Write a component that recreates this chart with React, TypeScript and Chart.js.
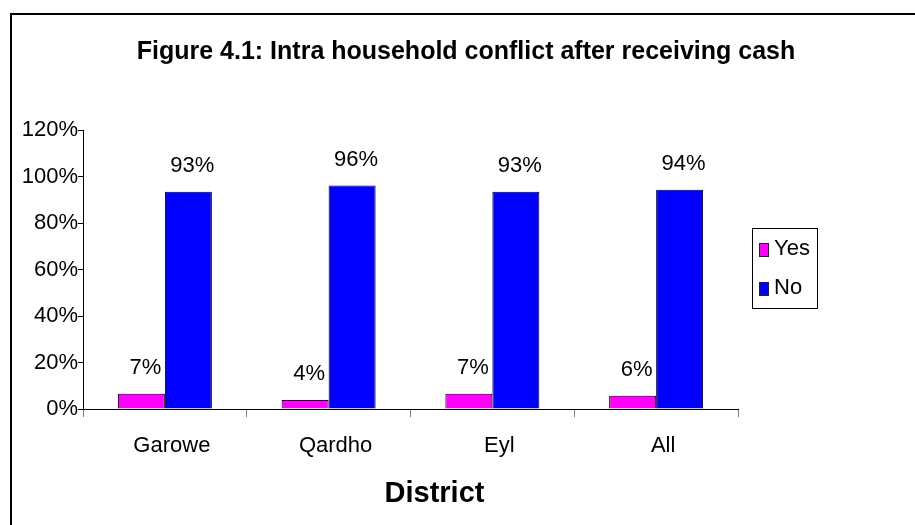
import React, { useEffect, useRef } from "react";
import { Chart, registerables } from "chart.js";

Chart.register(...registerables);

const categories = ["Garowe", "Qardho", "Eyl", "All"];
const yesValues = [6.6, 3.9, 6.6, 5.7];
const noValues = [93.4, 96.1, 93.4, 94.3];
const seriesNames = ["Yes", "No"];
const seriesColors = ["#FF00FF", "#0000FF"];
const yMin = 0;
const yMax = 120;
const yStep = 20;
const titleText = "Figure 4.1: Intra household conflict after receiving cash";
const xTitleText = "District";

const FONT = '"Liberation Sans", Arial, Helvetica, sans-serif';

const decorPlugin = {
  id: "decor",
  beforeDraw(chart: any) {
    const ctx = chart.ctx;
    ctx.save();
    ctx.fillStyle = "#ffffff";
    ctx.fillRect(0, 0, chart.width, chart.height);
    ctx.strokeStyle = "#000000";
    ctx.lineWidth = 2;
    ctx.strokeRect(11, 14, 2000, 2000);
    ctx.restore();
  },
  afterDatasetsDraw(chart: any) {
    const ctx = chart.ctx;
    ctx.save();
    ctx.font = `22px ${FONT}`;
    ctx.fillStyle = "#000000";
    ctx.textAlign = "center";
    ctx.textBaseline = "alphabetic";
    chart.data.datasets.forEach((ds: any, i: number) => {
      const meta = chart.getDatasetMeta(i);
      meta.data.forEach((bar: any, j: number) => {
        const v = ds.data[j];
        ctx.fillText(Math.round(v) + "%", bar.x + 4, bar.y - 20);
      });
    });
    ctx.restore();
  },
  afterDraw(chart: any) {
    const ctx = chart.ctx;
    const area = chart.chartArea;
    ctx.save();
    ctx.fillStyle = "#000000";
    ctx.textBaseline = "alphabetic";
    ctx.textAlign = "center";
    // chart title
    ctx.font = `bold 25px ${FONT}`;
    ctx.fillText(titleText, 466, 59);
    // x axis title
    ctx.font = `bold 29px ${FONT}`;
    ctx.fillText(xTitleText, (area.left + area.right) / 2 + 24, 502);
    // legend
    const lx = 752;
    const ly = 228;
    ctx.lineWidth = 1;
    ctx.strokeStyle = "#000000";
    ctx.strokeRect(lx + 0.5, ly + 0.5, 65, 80);
    ctx.font = `22px ${FONT}`;
    ctx.textAlign = "left";
    chart.data.datasets.forEach((ds: any, i: number) => {
      const sy = ly + 15 + i * 39;
      ctx.fillStyle = ds.backgroundColor;
      ctx.fillRect(lx + 7, sy, 10, 14);
      ctx.strokeStyle = "#222222";
      ctx.strokeRect(lx + 7.5, sy + 0.5, 9, 13);
      ctx.fillStyle = "#000000";
      ctx.fillText(ds.label, lx + 22, sy + 12);
    });
    ctx.restore();
  },
};

export default function App() {
  const canvasRef = useRef<HTMLCanvasElement | null>(null);

  useEffect(() => {
    if (!canvasRef.current) return;
    const chart = new Chart(canvasRef.current, {
      type: "bar",
      data: {
        labels: categories,
        datasets: [
          {
            label: seriesNames[0],
            data: yesValues,
            backgroundColor: seriesColors[0],
            borderColor: "#000000",
            borderWidth: 1,
          },
          {
            label: seriesNames[1],
            data: noValues,
            backgroundColor: seriesColors[1],
            borderColor: "#000000",
            borderWidth: 1,
          },
        ],
      },
      options: {
        responsive: false,
        animation: false,
        devicePixelRatio: 1,
        layout: { padding: { left: 0, top: 130, right: 177, bottom: 0 } },
        datasets: {
          bar: { categoryPercentage: 0.574, barPercentage: 1 },
        },
        plugins: {
          legend: { display: false },
          title: { display: false },
          tooltip: { enabled: false },
        },
        scales: {
          x: {
            grid: {
              display: true,
              drawOnChartArea: false,
              drawTicks: true,
              tickLength: 8,
              color: "#808080",
              offset: true,
            },
            border: { display: true, color: "#000000", width: 1 },
            ticks: {
              color: "#000000",
              font: { family: FONT, size: 22 },
              padding: 16,
              labelOffset: 7,
              maxRotation: 0,
            },
            afterFit: (s: any) => {
              s.height = 116;
            },
          },
          y: {
            min: yMin,
            max: yMax,
            grid: {
              display: true,
              drawOnChartArea: false,
              drawTicks: true,
              tickLength: 5,
              color: "#000000",
            },
            border: { display: true, color: "#000000", width: 1 },
            ticks: {
              stepSize: yStep,
              color: "#000000",
              font: { family: FONT, size: 22 },
              padding: 0,
              callback: (v: any) => v + "%",
            },
            afterFit: (s: any) => {
              s.width = 83;
            },
          },
        },
      },
      plugins: [decorPlugin],
    });
    return () => chart.destroy();
  }, []);

  return (
    <div style={{ position: "absolute", left: 0, top: 0, width: 915, height: 525, overflow: "hidden", background: "#fff" }}>
      <canvas ref={canvasRef} width={915} height={525} style={{ display: "block", width: 915, height: 525 }} />
    </div>
  );
}
